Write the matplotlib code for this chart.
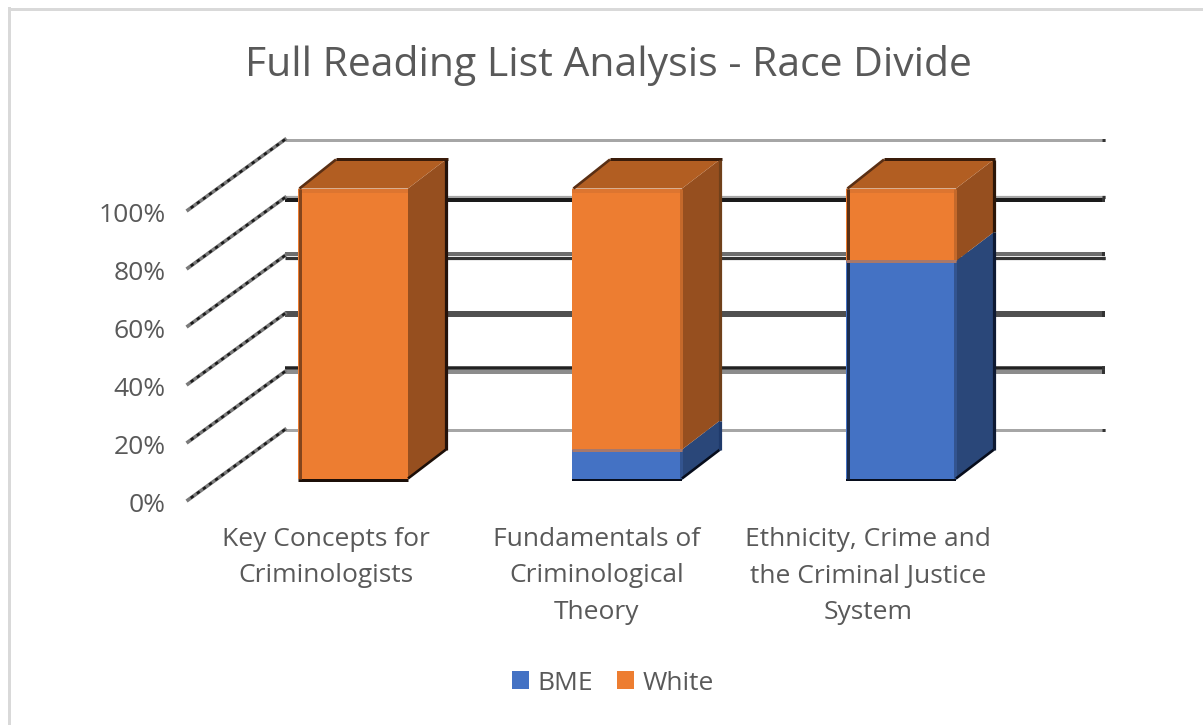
import matplotlib
matplotlib.use("Agg")
import matplotlib.pyplot as plt
from matplotlib.patches import Polygon
from matplotlib.lines import Line2D

categories = ["Key Concepts for\nCriminologists",
              "Fundamentals of\nCriminological\nTheory",
              "Ethnicity, Crime and\nthe Criminal Justice\nSystem"]
bme = [0, 10, 75]
white = [100, 90, 25]
ticks = [0, 20, 40, 60, 80, 100]
tick_labels = ["0%", "20%", "40%", "60%", "80%", "100%"]
title = "Full Reading List Analysis - Race Divide"

W, H = 1203, 725
GREY = "#595959"
plt.rcParams["font.family"] = "Open Sans"
fig = plt.figure(figsize=(W / 100, H / 100), dpi=100, facecolor="white")

# the front plane of the bars, in pixels
spacing = 274
x0 = 353 - spacing / 2
x1 = x0 + 3 * spacing
y_zero, y_full = 478.5, 188.5
ax = fig.add_axes([x0 / W, 1 - y_zero / H, (x1 - x0) / W, (y_zero - y_full) / H])
ax.set_xlim(-0.5, 2.5)
ax.set_ylim(0, 100)
ax.axis("off")

px = 1 / spacing              # one pixel in x data units
py = 100 / (y_zero - y_full)  # one pixel in y data units
LW = 0.72                     # one pixel in points

# chart frame: only the top and left edges are visible
fig.add_artist(Line2D([8.5 / W, 1], [1 - 9 / H] * 2, color="#d9d9d9", lw=3 * LW, transform=fig.transFigure))
fig.add_artist(Line2D([8.5 / W] * 2, [0, 1 - 8 / H], color="#d9d9d9", lw=3 * LW, transform=fig.transFigure))

# back wall gridlines: two-tone resampling bands as in the original
wall_left = -0.5 + 69 * px
wall_right = 2.5 + 67 * px
back_y = 49 * py
front_x = -0.5 - 28 * px
front_y = -21.5 * py
grid_styles = {0: [(-0.2, "#a6a6a6", 3)],
               20: [(3.2, "#222222", 3.5), (-0.5, "#8c8c8c", 4)],
               40: [(0, "#505050", 6)],
               60: [(1.5, "#6e6e6e", 4), (-2, "#333333", 3.2)],
               80: [(1, "#a6a6a6", 3.2), (-2.5, "#1a1a1a", 4)],
               100: [(0, "#a6a6a6", 3)]}
for t, lab in zip(ticks, tick_labels):
    for dy, col, lw in grid_styles[t]:
        y = t + back_y + dy * py
        ax.plot([wall_left, wall_right], [y, y], color=col, lw=lw * LW,
                solid_capstyle="butt", clip_on=False, zorder=1)
        ax.plot([wall_right - 3 * px, wall_right], [y, y], color="#333333", lw=lw * LW,
                solid_capstyle="butt", clip_on=False, zorder=1)
    ax.plot([wall_left, front_x], [t + back_y, t + front_y], color="#7a7a7a", lw=3.6 * LW,
            clip_on=False, zorder=1)
    ax.plot([wall_left, front_x], [t + back_y, t + front_y], color="#1a1a1a", lw=2.6 * LW,
            ls=(0, (1.3, 1.6)), clip_on=False, zorder=1)
    ax.text(front_x - 22 * px, t + front_y - 5 * py, lab, ha="right", va="center",
            fontsize=19, color=GREY, clip_on=False)

# bars
width = 110 * px
depth_x, depth_y = 38 * px, 29 * py
h_bme = ax.bar(range(3), bme, width, color="#4472c4", zorder=3, label="BME", clip_on=False)
h_white = ax.bar(range(3), white, width, bottom=bme, color="#ed7d31", zorder=3, label="White", clip_on=False)

# per-bar edge colours
back_edge = ["#24120a", "#70401a", "#2b1608"]
left_edge = ["#84451c", None, "#5a3014"]
strip_right = [False, True, True]

for i in range(3):
    l, r = i - width / 2, i + width / 2
    b = bme[i]
    edge_kw = dict(solid_capstyle="butt", zorder=4, clip_on=False)
    # side faces and top
    if b > 0:
        ax.add_patch(Polygon([(r, 0), (r + depth_x, depth_y), (r + depth_x, b + depth_y), (r, b)],
                             fc="#2a4779", ec="none", zorder=2, clip_on=False))
    ax.add_patch(Polygon([(r, b), (r + depth_x, b + depth_y), (r + depth_x, 100 + depth_y), (r, 100)],
                         fc="#964f1f", ec="none", zorder=2, clip_on=False))
    ax.add_patch(Polygon([(l, 100), (l + depth_x, 100 + depth_y), (r + depth_x, 100 + depth_y), (r, 100)],
                         fc="#b25e22", ec="none", zorder=2, clip_on=False))
    # lighter strips on the front face
    ax.plot([l, r], [100 - 2 * py] * 2, color="#dd7530", lw=4 * LW, **edge_kw)
    if strip_right[i]:
        ax.plot([r - 1.5 * px] * 2, [b, 100], color="#c4692b", lw=3 * LW, **edge_kw)
        if b > 0:
            ax.plot([r - 1.5 * px] * 2, [0, b], color="#33548f", lw=3 * LW, **edge_kw)
    # dark outline
    bottom_col = "#1c0f08" if b == 0 else "#070d1c"
    ax.plot([l, r], [-1.0 * py] * 2, color=bottom_col, lw=(3 if i == 0 else 2) * LW, **edge_kw)
    ax.plot([r, r + depth_x], [0, depth_y], color=bottom_col, lw=2.6 * LW, **edge_kw)
    ax.plot([l + 1.5 * px, l + depth_x], [100, 100 + depth_y], color="#5a2f14", lw=2.6 * LW, **edge_kw)
    ax.plot([l + depth_x, r + depth_x + 1.5 * px], [100 + depth_y + 0.5 * py] * 2, color="#3a1c0a",
            lw=3 * LW, **edge_kw)
    ax.plot([r + depth_x] * 2, [b + depth_y, 100 + depth_y], color=back_edge[i], lw=3.2 * LW, **edge_kw)
    if b > 0:
        ax.plot([r + depth_x] * 2, [depth_y, b + depth_y], color="#1f3a6b" if i == 1 else "#0e1a33",
                lw=3.2 * LW, **edge_kw)
    if left_edge[i]:
        ax.plot([l + 1.5 * px] * 2, [b, 100], color=left_edge[i], lw=3 * LW, **edge_kw)
        if b > 0:
            ax.plot([l + 1.5 * px] * 2, [0, b], color="#1a2c4d", lw=3 * LW, **edge_kw)
    if b > 0:
        ax.plot([l, r], [b, b], color="#a8786a", lw=3 * LW, **edge_kw)

# category labels
label_centres = [326, 597, 868]
label_mid_y = [557.5, 576, 576]
for x_c, y_c, lab in zip(label_centres, label_mid_y, categories):
    ax.text((x_c - 353) * px, (y_zero - y_c) * py, lab, ha="center", va="center",
            fontsize=19, color=GREY, linespacing=1.58, clip_on=False)

# title
fig.text(608 / W, 1 - 65 / H, title, ha="center", va="center", fontsize=29.4, color=GREY)

# legend
fig.legend([h_bme[0], h_white[0]], ["BME", "White"], loc="center", bbox_to_anchor=(613 / W, 1 - 683 / H),
           ncol=2, frameon=False, fontsize=19, labelcolor=GREY, handlelength=0.65,
           handleheight=0.65, handletextpad=0.33, columnspacing=0.9)

fig.savefig("out.png", dpi=100, facecolor="white")
